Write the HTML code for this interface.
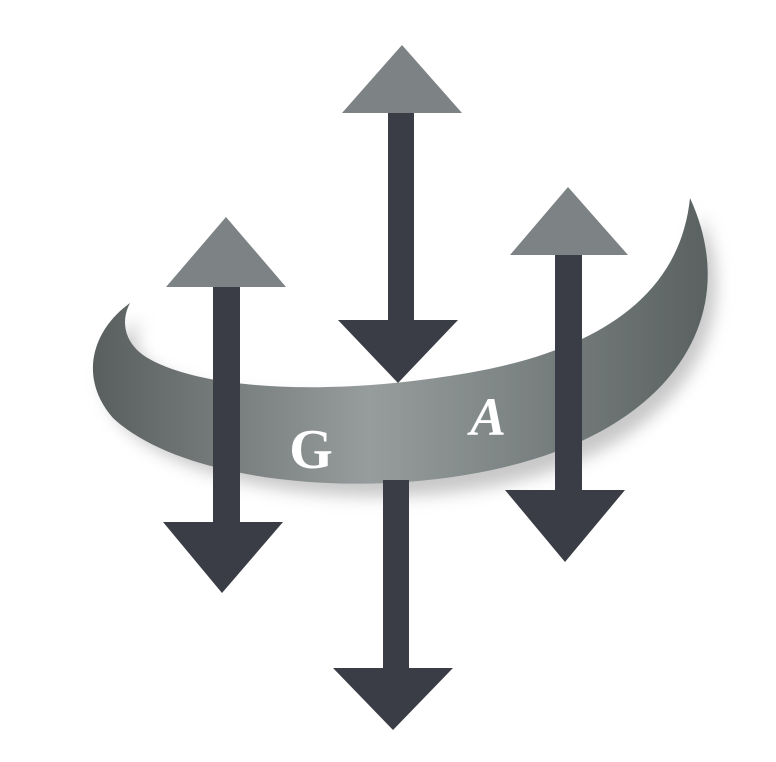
<!DOCTYPE html>
<html><head><style>html,body{margin:0;padding:0;background:#fff;}svg{display:block}</style></head>
<body>
<svg width="776" height="762" viewBox="0 0 776 762" xmlns="http://www.w3.org/2000/svg">
<defs>
<linearGradient id="bg" x1="0" y1="0" x2="1" y2="0">
<stop offset="0" stop-color="#595f5e"/>
<stop offset="0.45" stop-color="#979c9c"/>
<stop offset="0.6" stop-color="#868d8d"/>
<stop offset="1" stop-color="#5a6161"/>
</linearGradient>
<filter id="sh" x="-20%" y="-20%" width="140%" height="150%"><feGaussianBlur stdDeviation="8"/></filter>
</defs>
<rect x="388" y="105" width="26" height="220" fill="#3b3d46"/>
<polygon points="402,45 342,113 462,113" fill="#7d8284"/>
<polygon points="338,320 458,320 398,383" fill="#3b3d46"/>
<path d="M132,310 C95,335 80,380 120,420 C200,490 420,510 560,455 C690,405 735,300 693,205 C680,300 600,355 470,378 C330,400 200,390 150,360 C125,345 125,325 132,310 Z" fill="#c8c8c8" filter="url(#sh)" transform="translate(8,10)"/>
<path d="M130,303 C92,330 78,378 113,418 C190,490 410,505 555,452 C690,402 737,300 690,198 C680,295 600,350 468,373 C330,397 200,390 146,357 C123,342 121,320 130,303 Z" fill="url(#bg)"/>
<rect x="213" y="280" width="27" height="245" fill="#3b3d46"/>
<polygon points="226,217 166,287 286,287" fill="#7d8284"/>
<polygon points="163,522 283,522 222,593" fill="#3b3d46"/>
<rect x="555" y="250" width="27" height="245" fill="#3b3d46"/>
<polygon points="568,187 510,255 628,255" fill="#7d8284"/>
<polygon points="505,490 625,490 565,562" fill="#3b3d46"/>
<rect x="383" y="480" width="26" height="192" fill="#3b3d46"/>
<polygon points="333,668 453,668 393,730" fill="#3b3d46"/>
<text x="311" y="468" font-family="Liberation Serif, serif" font-weight="bold" font-size="56" fill="#fff" text-anchor="middle">G</text>
<text x="488" y="435" font-family="Liberation Serif, serif" font-weight="bold" font-style="italic" font-size="54" fill="#fff" text-anchor="middle">A</text>
</svg>
</body></html>
